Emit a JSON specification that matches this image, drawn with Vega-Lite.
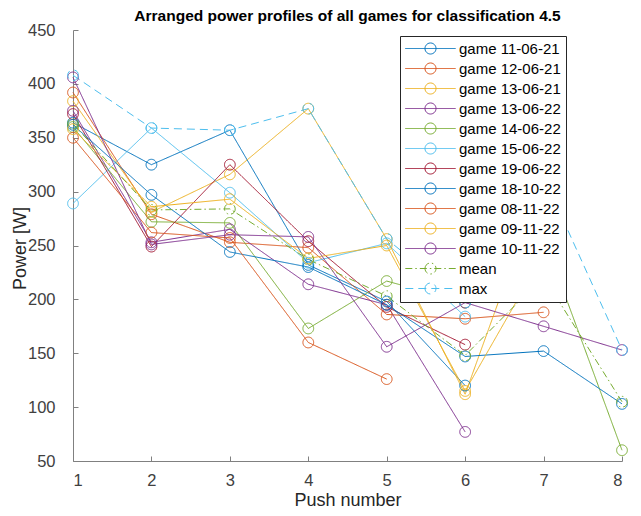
{
  "$schema": "https://vega.github.io/schema/vega-lite/v6.json",
  "width": 549,
  "height": 431,
  "autosize": "none",
  "padding": {"left": 73, "top": 30, "right": 19, "bottom": 55},
  "background": "white",
  "title": {
    "text": "Arranged power profiles of all games for classification 4.5",
    "font": "Liberation Sans",
    "fontSize": 15.5,
    "fontWeight": "bold",
    "color": "#000000",
    "anchor": "middle",
    "offset": -2
  },
  "config": {
    "view": {"stroke": null},
    "axis": {
      "labelFont": "Liberation Sans",
      "titleFont": "Liberation Sans",
      "labelFontSize": 16.5,
      "titleFontSize": 18,
      "titleFontWeight": "normal",
      "labelColor": "#404040",
      "titleColor": "#262626",
      "domainColor": "#808080",
      "tickColor": "#808080",
      "domainWidth": 1,
      "tickWidth": 1,
      "tickSize": -5,
      "grid": false
    }
  },
  "data": {
    "values": [
      {"series": "game 11-06-21", "push": 1, "power": 364},
      {"series": "game 11-06-21", "push": 2, "power": 325},
      {"series": "game 11-06-21", "push": 3, "power": 357},
      {"series": "game 11-06-21", "push": 4, "power": 232},
      {"series": "game 11-06-21", "push": 5, "power": 198},
      {"series": "game 11-06-21", "push": 6, "power": 120},

      {"series": "game 12-06-21", "push": 1, "power": 392},
      {"series": "game 12-06-21", "push": 2, "power": 279},
      {"series": "game 12-06-21", "push": 3, "power": 253},
      {"series": "game 12-06-21", "push": 4, "power": 248},
      {"series": "game 12-06-21", "push": 5, "power": 186},
      {"series": "game 12-06-21", "push": 6, "power": 182},
      {"series": "game 12-06-21", "push": 7, "power": 188},

      {"series": "game 13-06-21", "push": 1, "power": 384},
      {"series": "game 13-06-21", "push": 2, "power": 281},
      {"series": "game 13-06-21", "push": 3, "power": 316},
      {"series": "game 13-06-21", "push": 4, "power": 377},
      {"series": "game 13-06-21", "push": 5, "power": 256},
      {"series": "game 13-06-21", "push": 6, "power": 112},
      {"series": "game 13-06-21", "push": 7, "power": 314},

      {"series": "game 13-06-22", "push": 1, "power": 375},
      {"series": "game 13-06-22", "push": 2, "power": 253},
      {"series": "game 13-06-22", "push": 3, "power": 265},
      {"series": "game 13-06-22", "push": 4, "power": 214},
      {"series": "game 13-06-22", "push": 5, "power": 195},
      {"series": "game 13-06-22", "push": 6, "power": 77},

      {"series": "game 14-06-22", "push": 1, "power": 360},
      {"series": "game 14-06-22", "push": 2, "power": 272},
      {"series": "game 14-06-22", "push": 3, "power": 271},
      {"series": "game 14-06-22", "push": 4, "power": 173},
      {"series": "game 14-06-22", "push": 5, "power": 217},
      {"series": "game 14-06-22", "push": 6, "power": 197},
      {"series": "game 14-06-22", "push": 7, "power": 258},
      {"series": "game 14-06-22", "push": 8, "power": 60},

      {"series": "game 15-06-22", "push": 1, "power": 289},
      {"series": "game 15-06-22", "push": 2, "power": 359},
      {"series": "game 15-06-22", "push": 3, "power": 299},
      {"series": "game 15-06-22", "push": 4, "power": 234},
      {"series": "game 15-06-22", "push": 5, "power": 252},
      {"series": "game 15-06-22", "push": 6, "power": 184},

      {"series": "game 19-06-22", "push": 1, "power": 372},
      {"series": "game 19-06-22", "push": 2, "power": 249},
      {"series": "game 19-06-22", "push": 3, "power": 325},
      {"series": "game 19-06-22", "push": 4, "power": 254},
      {"series": "game 19-06-22", "push": 5, "power": 193},
      {"series": "game 19-06-22", "push": 6, "power": 158},

      {"series": "game 18-10-22", "push": 1, "power": 362},
      {"series": "game 18-10-22", "push": 2, "power": 297},
      {"series": "game 18-10-22", "push": 3, "power": 244},
      {"series": "game 18-10-22", "push": 4, "power": 230},
      {"series": "game 18-10-22", "push": 5, "power": 195},
      {"series": "game 18-10-22", "push": 6, "power": 147},
      {"series": "game 18-10-22", "push": 7, "power": 152},
      {"series": "game 18-10-22", "push": 8, "power": 103},

      {"series": "game 08-11-22", "push": 1, "power": 350},
      {"series": "game 08-11-22", "push": 2, "power": 262},
      {"series": "game 08-11-22", "push": 3, "power": 257},
      {"series": "game 08-11-22", "push": 4, "power": 160},
      {"series": "game 08-11-22", "push": 5, "power": 126},

      {"series": "game 09-11-22", "push": 1, "power": 358},
      {"series": "game 09-11-22", "push": 2, "power": 286},
      {"series": "game 09-11-22", "push": 3, "power": 293},
      {"series": "game 09-11-22", "push": 4, "power": 238},
      {"series": "game 09-11-22", "push": 5, "power": 250},
      {"series": "game 09-11-22", "push": 6, "power": 115},
      {"series": "game 09-11-22", "push": 7, "power": 242},

      {"series": "game 10-11-22", "push": 1, "power": 406},
      {"series": "game 10-11-22", "push": 2, "power": 251},
      {"series": "game 10-11-22", "push": 3, "power": 260},
      {"series": "game 10-11-22", "push": 4, "power": 258},
      {"series": "game 10-11-22", "push": 5, "power": 156},
      {"series": "game 10-11-22", "push": 6, "power": 197},
      {"series": "game 10-11-22", "push": 7, "power": 175},
      {"series": "game 10-11-22", "push": 8, "power": 153},

      {"series": "mean", "push": 1, "power": 363},
      {"series": "mean", "push": 2, "power": 283},
      {"series": "mean", "push": 3, "power": 284},
      {"series": "mean", "push": 4, "power": 237},
      {"series": "mean", "push": 5, "power": 203},
      {"series": "mean", "push": 6, "power": 148},
      {"series": "mean", "push": 7, "power": 221},
      {"series": "mean", "push": 8, "power": 105},

      {"series": "max", "push": 1, "power": 408},
      {"series": "max", "push": 2, "power": 359},
      {"series": "max", "push": 3, "power": 357},
      {"series": "max", "push": 4, "power": 377},
      {"series": "max", "push": 5, "power": 256},
      {"series": "max", "push": 6, "power": 197},
      {"series": "max", "push": 7, "power": 314},
      {"series": "max", "push": 8, "power": 153}
    ]
  },
  "encoding": {
    "x": {
      "field": "push",
      "type": "quantitative",
      "scale": {"domain": [1, 8], "nice": false, "zero": false},
      "axis": {
        "values": [1, 2, 3, 4, 5, 6, 7, 8],
        "title": "Push number",
        "labelPadding": 16,
        "titleX": 274.5,
        "titleY": 39,
        "titleBaseline": "middle",
        "titleAnchor": "middle"
      }
    },
    "y": {
      "field": "power",
      "type": "quantitative",
      "scale": {"domain": [50, 450], "nice": false, "zero": false},
      "axis": {
        "values": [50, 100, 150, 200, 250, 300, 350, 400, 450],
        "title": "Power [W]",
        "labelPadding": 23,
        "titleX": -53,
        "titleY": 218,
        "titleBaseline": "middle",
        "titleAnchor": "middle"
      }
    },
    "color": {
      "field": "series",
      "type": "nominal",
      "scale": {
        "domain": ["game 11-06-21", "game 12-06-21", "game 13-06-21", "game 13-06-22", "game 14-06-22", "game 15-06-22", "game 19-06-22", "game 18-10-22", "game 08-11-22", "game 09-11-22", "game 10-11-22", "mean", "max"],
        "range": ["#0072BD", "#D95319", "#EDB120", "#7E2F8E", "#77AC30", "#4DBEEE", "#A2142F", "#0072BD", "#D95319", "#EDB120", "#7E2F8E", "#77AC30", "#4DBEEE"]
      },
      "legend": {
        "orient": "none",
        "legendX": 327,
        "legendY": 6,
        "title": null,
        "fillColor": "white",
        "strokeColor": "#262626",
        "padding": 5,
        "symbolType": "M-4.2,0H4.2M-0.92,0A0.92,0.92 0 1,1 0.92,0A0.92,0.92 0 1,1 -0.92,0",
        "symbolSize": 144,
        "symbolStrokeWidth": 1,
        "symbolFillColor": "transparent",
        "symbolOffset": 18,
        "labelFont": "Liberation Sans",
        "labelFontSize": 15,
        "labelColor": "#000000",
        "labelOffset": 21,
        "rowPadding": 3
      }
    },
    "strokeDash": {
      "field": "series",
      "type": "nominal",
      "scale": {
        "domain": ["game 11-06-21", "game 12-06-21", "game 13-06-21", "game 13-06-22", "game 14-06-22", "game 15-06-22", "game 19-06-22", "game 18-10-22", "game 08-11-22", "game 09-11-22", "game 10-11-22", "mean", "max"],
        "range": [[1, 0], [1, 0], [1, 0], [1, 0], [1, 0], [1, 0], [1, 0], [1, 0], [1, 0], [1, 0], [1, 0], [7, 3, 1.5, 3], [8, 5]]
      }
    }
  },
  "layer": [
    {"mark": {"type": "line", "strokeWidth": 1}},
    {"mark": {"type": "point", "shape": "circle", "filled": false, "size": 115, "strokeWidth": 1, "opacity": 1}}
  ]
}
